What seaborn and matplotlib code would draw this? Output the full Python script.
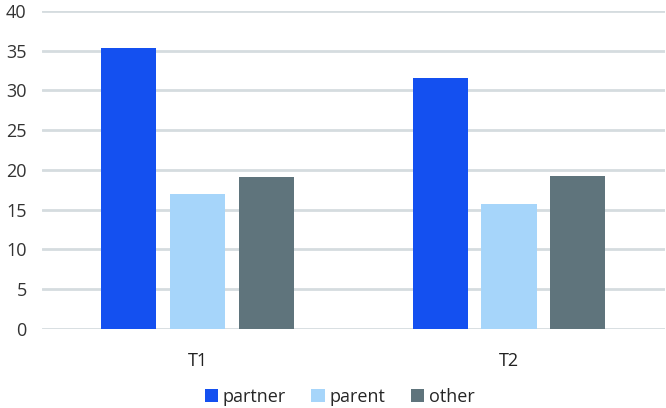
import pandas as pd
import matplotlib
matplotlib.use('Agg')
import matplotlib.pyplot as plt
import seaborn as sns

# data
times = ['T1', 'T2']
groups = ['partner', 'parent', 'other']
partner = [35.3, 31.6]
parent = [17.0, 15.7]
other = [19.1, 19.2]

df = pd.DataFrame({
    'time': times * 3,
    'group': [g for g in groups for _ in times],
    'value': partner + parent + other,
})

sns.set_style('white')
plt.rcParams['font.family'] = ['Open Sans', 'DejaVu Sans']

palette = {'partner': '#1450F0', 'parent': '#A6D5FA', 'other': '#5F747C'}

fig = plt.figure(figsize=(6.66, 4.08), dpi=100)
ax = fig.add_axes([0.063, 0.194, 0.935, 0.779])

sns.barplot(data=df, x='time', y='value', hue='group', hue_order=groups,
            palette=palette, width=0.664, gap=0.2, saturation=1,
            edgecolor='none', ax=ax, zorder=3)

ax.set_ylim(0, 40)
ax.set_yticks(range(0, 41, 5))
ax.set_xlim(-0.5, 1.5)
ax.yaxis.grid(True, color='#D5DCDF', linewidth=2, zorder=0)
ax.set_axisbelow(True)
for s in ax.spines.values():
    s.set_visible(False)
ax.set_xlabel('')
ax.set_ylabel('')
ax.tick_params(axis='y', length=0, pad=11, labelsize=13, labelcolor='#333333')
ax.tick_params(axis='x', length=0, pad=17, labelsize=13, labelcolor='#222222')

ax.legend(loc='upper center', bbox_to_anchor=(0.478, -0.135), ncol=3, frameon=False,
          fontsize=13, handlelength=0.75, handleheight=0.75, handletextpad=0.25,
          columnspacing=1.4)

fig.savefig('out.png', dpi=100)
